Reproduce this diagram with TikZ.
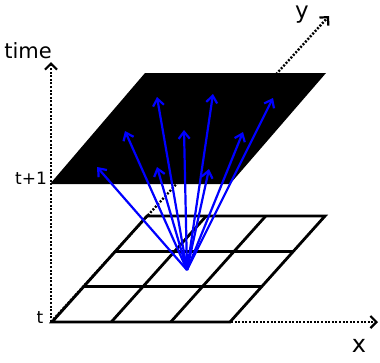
\documentclass[tikz,border=0pt]{standalone}
\usepackage{fontspec}
\setmainfont{DejaVu Sans}
\usetikzlibrary{arrows.meta,calc}
\tikzset{
  axis/.style={line width=2.4pt, dash pattern=on 2pt off 1.6pt, -{Straight Barb[length=6pt,width=12pt,line width=2.2pt]}},
  gridline/.style={line width=2.8pt, black},
  fan/.style={line width=2.2pt, blue, -{Straight Barb[length=7pt,width=11pt,line width=2.2pt]}},
  lbl/.style={inner sep=0pt, outer sep=0pt}
}
\begin{document}
\begin{tikzpicture}[x=1pt,y=-1pt]
\useasboundingbox (0,0) rectangle (380,362);
% axes coordinates
\coordinate (O) at (51,322);
\coordinate (Ttip) at (51,62);
\coordinate (Xtip) at (378,322);
\coordinate (Ytip) at (329,16);
% axes
\draw[axis] (O) -- (Ttip);
\draw[axis] (O) -- (Xtip);
\draw[axis] (O) -- (Ytip);
% grid at time t
\coordinate (A) at (52,322);
\coordinate (B) at (230,322);
\coordinate (C) at (325,216);
\coordinate (D) at (147,216);
\draw[gridline] (A) -- (B) -- (C) -- (D) -- cycle;
\foreach \f in {0.333,0.667}{
  \draw[gridline] ($(A)!\f!(D)$) -- ($(B)!\f!(C)$);
  \draw[gridline] ($(A)!\f!(B)$) -- ($(D)!\f!(C)$);
}
% black plane at time t+1
\coordinate (P1) at (50,184);
\coordinate (P2) at (230,184);
\coordinate (P3) at (326,73);
\coordinate (P4) at (145,73);
\fill[black] (P1) -- (P2) -- (P3) -- (P4) -- cycle;
% fan of arrows
\coordinate (F) at (187,270);
\coordinate (a1) at (97,167);
\coordinate (a2) at (157,167);
\coordinate (a3) at (209,169);
\coordinate (a4) at (125,131);
\coordinate (a5) at (184,130);
\coordinate (a6) at (243,132);
\coordinate (a7) at (157,97);
\coordinate (a8) at (213,94);
\coordinate (a9) at (273,98);
\foreach \t in {a1,a2,a3,a4,a5,a6,a7,a8,a9}{
  \draw[fan] (F) -- (\t);
}
% labels
\node[lbl, font=\fontsize{21}{22}\selectfont] (time) at (28,51) {time};
\node[lbl, font=\fontsize{17}{18}\selectfont] (tp1) at (31,178) {t+1};
\node[lbl, font=\fontsize{17}{18}\selectfont] (t) at (40,318) {t};
\node[lbl, font=\fontsize{24}{26}\selectfont] (xl) at (359,346) {x};
\node[lbl, font=\fontsize{23}{25}\selectfont] (yl) at (302,15) {y};
\end{tikzpicture}
\end{document}
